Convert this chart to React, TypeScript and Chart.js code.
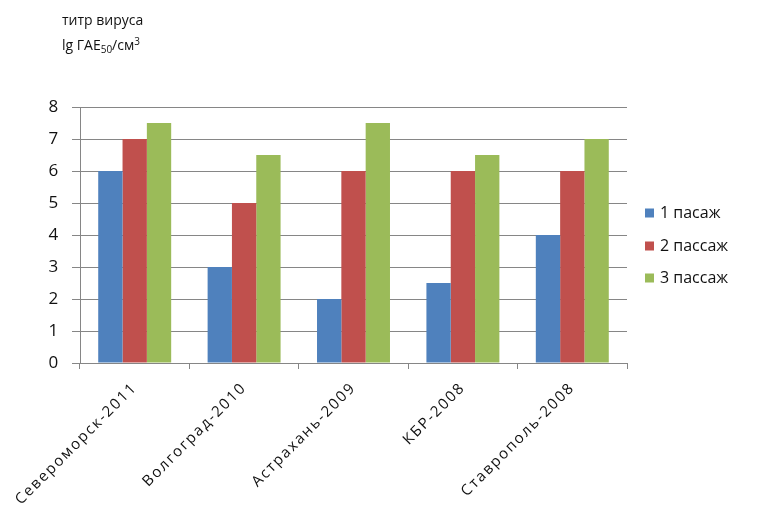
import React, { useEffect, useRef } from "react";
import { Chart, registerables } from "chart.js";

Chart.register(...registerables);

const categories = ["Североморск-2011", "Волгоград-2010", "Астрахань-2009", "КБР-2008", "Ставрополь-2008"];
const seriesNames = ["1 пасаж", "2 пассаж", "3 пассаж"];
const pass1 = [6, 3, 2, 2.5, 4];
const pass2 = [7, 5, 6, 6, 6];
const pass3 = [7.5, 6.5, 7.5, 6.5, 7];
const colors = ["#4F81BD", "#C0504D", "#9BBB59"];
const yTicks = [0, 1, 2, 3, 4, 5, 6, 7, 8];

const FONT = "'Open Sans', 'Noto Sans', sans-serif";
const TEXT = "#111";

const spacing = {
  id: "spacing",
  beforeDraw(chart: any) {
    chart.ctx.letterSpacing = "1.8px";
  },
  beforeDatasetsDraw(chart: any) {
    chart.ctx.letterSpacing = "0px";
  },
};

const overlay = {
  id: "overlay",
  afterDraw(chart: any) {
    const ctx = chart.ctx;
    ctx.save();
    ctx.letterSpacing = "0px";
    ctx.fillStyle = TEXT;
    ctx.textBaseline = "alphabetic";
    ctx.textAlign = "left";
    ctx.font = `14px ${FONT}`;
    ctx.fillText("титр вируса", 62, 25);
    let x = 62;
    const y2 = 50;
    ctx.fillText("lg ГАЕ", x, y2);
    x += ctx.measureText("lg ГАЕ").width;
    ctx.font = `10px ${FONT}`;
    ctx.fillText("50", x, y2 + 3);
    x += ctx.measureText("50").width;
    ctx.font = `14px ${FONT}`;
    ctx.fillText("/см", x, y2);
    x += ctx.measureText("/см").width;
    ctx.font = `10px ${FONT}`;
    ctx.fillText("3", x, y2 - 5);

    ctx.font = `16px ${FONT}`;
    ctx.textBaseline = "middle";
    const ys = [213, 246, 278];
    seriesNames.forEach((n, i) => {
      ctx.fillStyle = colors[i];
      ctx.fillRect(645, ys[i] - 4.5, 9, 9);
      ctx.fillStyle = TEXT;
      ctx.fillText(n, 660, ys[i]);
    });
    ctx.restore();
  },
};

export default function App() {
  const ref = useRef<HTMLCanvasElement>(null);
  useEffect(() => {
    document.body.style.margin = "0";
    const chart = new Chart(ref.current!, {
      type: "bar",
      data: {
        labels: categories,
        datasets: [pass1, pass2, pass3].map((d, i) => ({
          label: seriesNames[i],
          data: d,
          backgroundColor: colors[i],
          borderWidth: 0,
          categoryPercentage: 0.667,
          barPercentage: 1,
        })),
      },
      options: {
        responsive: false,
        animation: false,
        layout: { padding: { left: 0, top: 107, right: 130, bottom: 0 } },
        plugins: { legend: { display: false }, tooltip: { enabled: false } },
        scales: {
          x: {
            grid: { display: true, drawOnChartArea: false, tickLength: 6, color: "#868686", offset: true },
            border: { color: "#868686" },
            ticks: { minRotation: 45, maxRotation: 45, color: TEXT, font: { size: 15, family: FONT }, padding: 10 },
            afterFit: (s: any) => { s.height = 149; },
          },
          y: {
            min: 0,
            max: 8,
            afterBuildTicks: (s: any) => { s.ticks = yTicks.map((v) => ({ value: v })); },
            grid: { color: "#868686", tickLength: 8 },
            border: { color: "#868686" },
            ticks: { color: TEXT, font: { size: 17, family: FONT }, padding: 12 },
            afterFit: (s: any) => { s.width = 80; },
          },
        },
      },
      plugins: [spacing, overlay],
    });
    return () => chart.destroy();
  }, []);
  return (
    <div style={{ position: "absolute", left: 0, top: 0, width: 757, height: 512, background: "#fff" }}>
      <canvas ref={ref} width={757} height={512} />
    </div>
  );
}
